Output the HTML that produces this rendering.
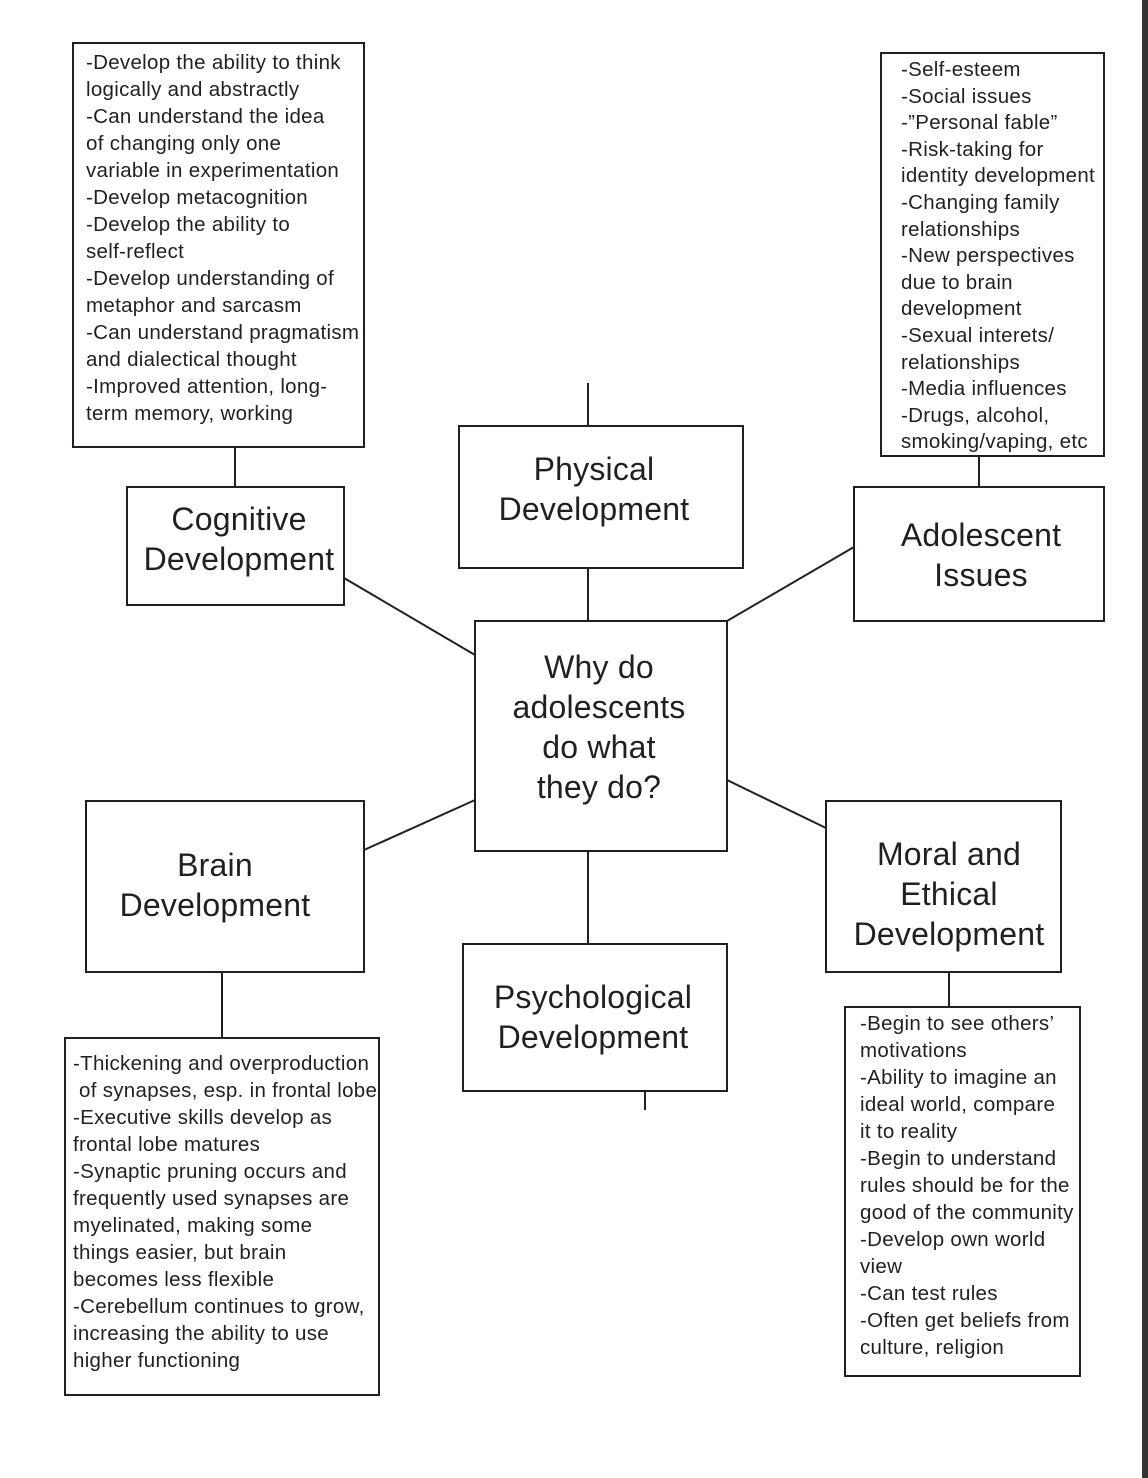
<!DOCTYPE html>
<html><head><meta charset="utf-8"><style>
body{margin:0;width:1148px;height:1478px;background:#fff;position:relative;overflow:hidden;font-family:"Liberation Sans",sans-serif;color:#231f20}
.t{position:absolute;font-size:20.5px;line-height:27px;white-space:nowrap;letter-spacing:0.3px}
.c{position:absolute;font-size:32px;line-height:40px;text-align:center;white-space:nowrap;letter-spacing:0.2px}
svg{position:absolute;left:0;top:0}
</style></head><body>
<svg width="1148" height="1478">
<g fill="none" stroke="#231f20" stroke-width="2">
<rect x="73" y="43" width="291" height="404"/>
<rect x="127" y="487" width="217" height="118"/>
<rect x="459" y="426" width="284" height="142"/>
<rect x="881" y="53" width="223" height="403"/>
<rect x="854" y="487" width="250" height="134"/>
<rect x="475" y="621" width="252" height="230"/>
<rect x="86" y="801" width="278" height="171"/>
<rect x="65" y="1038" width="314" height="357"/>
<rect x="463" y="944" width="264" height="147"/>
<rect x="826" y="801" width="235" height="171"/>
<rect x="845" y="1007" width="235" height="369"/>
<line x1="235" y1="447" x2="235" y2="487"/>
<line x1="588" y1="383" x2="588" y2="426"/>
<line x1="588" y1="568" x2="588" y2="621"/>
<line x1="979" y1="456" x2="979" y2="487"/>
<line x1="222" y1="972" x2="222" y2="1038"/>
<line x1="588" y1="851" x2="588" y2="944"/>
<line x1="645" y1="1091" x2="645" y2="1110"/>
<line x1="949" y1="972" x2="949" y2="1007"/>
<line x1="344" y1="578" x2="475" y2="655"/>
<line x1="727" y1="621" x2="854" y2="547"/>
<line x1="364" y1="850" x2="475" y2="800"/>
<line x1="727" y1="780" x2="826" y2="828"/>
</g>
<rect x="1142" y="0" width="6" height="1478" fill="#333"/>
</svg>
<div class="t" style="left:86px;top:49px">-Develop the ability to think<br>logically and abstractly<br>-Can understand the idea<br>of changing only one<br>variable in experimentation<br>-Develop metacognition<br>-Develop the ability to<br>self-reflect<br>-Develop understanding of<br>metaphor and sarcasm<br>-Can understand pragmatism<br>and dialectical thought<br>-Improved attention, long-<br>term memory, working</div>
<div class="t" style="left:901px;top:57px;line-height:26.6px">-Self-esteem<br>-Social issues<br>-”Personal fable”<br>-Risk-taking for<br>identity development<br>-Changing family<br>relationships<br>-New perspectives<br>due to brain<br>development<br>-Sexual interets/<br>relationships<br>-Media influences<br>-Drugs, alcohol,<br>smoking/vaping, etc</div>
<div class="t" style="left:73px;top:1050px">-Thickening and overproduction<br>&nbsp;of synapses, esp. in frontal lobe<br>-Executive skills develop as<br>frontal lobe matures<br>-Synaptic pruning occurs and<br>frequently used synapses are<br>myelinated, making some<br>things easier, but brain<br>becomes less flexible<br>-Cerebellum continues to grow,<br>increasing the ability to use<br>higher functioning</div>
<div class="t" style="left:860px;top:1010px">-Begin to see others’<br>motivations<br>-Ability to imagine an<br>ideal world, compare<br>it to reality<br>-Begin to understand<br>rules should be for the<br>good of the community<br>-Develop own world<br>view<br>-Can test rules<br>-Often get beliefs from<br>culture, religion</div>
<div class="c" style="left:459px;width:270px;top:449px">Physical<br>Development</div>
<div class="c" style="left:127px;width:224px;top:499px">Cognitive<br>Development</div>
<div class="c" style="left:854px;width:254px;top:515px">Adolescent<br>Issues</div>
<div class="c" style="left:475px;width:248px;top:647px">Why do<br>adolescents<br>do what<br>they do?</div>
<div class="c" style="left:86px;width:258px;top:845px">Brain<br>Development</div>
<div class="c" style="left:463px;width:260px;top:977px">Psychological<br>Development</div>
<div class="c" style="left:826px;width:246px;top:834px">Moral and<br>Ethical<br>Development</div>
</body></html>
